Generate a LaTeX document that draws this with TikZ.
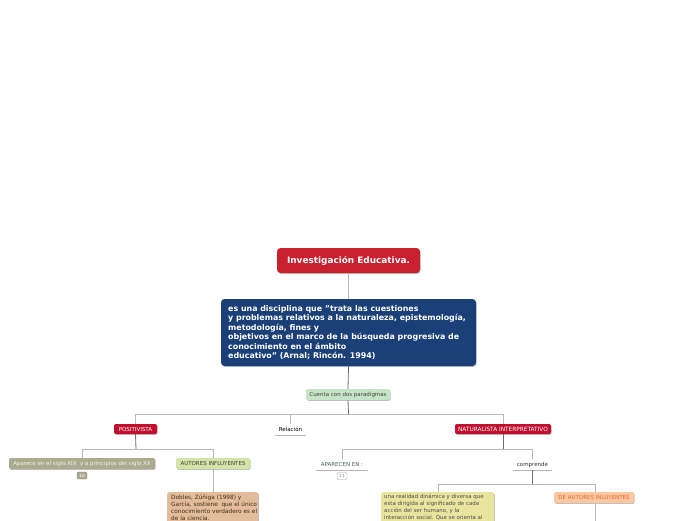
\documentclass[tikz,border=0pt]{standalone}
\usepackage{fontspec}
\setmainfont{DejaVu Sans}
\usetikzlibrary{shadows}
\definecolor{titlered}{HTML}{C8202F}
\definecolor{navy}{HTML}{1B4077}
\definecolor{paleg}{HTML}{C6E4C6}
\definecolor{parred}{HTML}{C0102E}
\definecolor{olivegray}{HTML}{ABAB8F}
\definecolor{olivedark}{HTML}{7E7E64}
\definecolor{limeg}{HTML}{D6E3A6}
\definecolor{tan}{HTML}{E3BD9B}
\definecolor{yellowbox}{HTML}{E9E59F}
\definecolor{peach}{HTML}{FCC8A0}
\definecolor{orangetx}{HTML}{F26430}
\definecolor{lightln}{HTML}{B8B8B8}
\definecolor{darkln}{HTML}{6E6E6E}
\definecolor{apentx}{HTML}{4A624A}
\tikzset{
  shad/.style={drop shadow={shadow xshift=0.7pt, shadow yshift=-0.9pt, opacity=0.25, fill=black}},
  boxx/.style={rounded corners=2pt, inner sep=0pt, shad},
  titlebox/.style={boxx, fill=titlered, text=white, font=\fontsize{8.9}{10}\selectfont\bfseries, rounded corners=3.5pt},
  bluebox/.style={boxx, fill=navy, rounded corners=3.5pt},
  smallfont/.style={font=\fontsize{5.5}{6.5}\selectfont},
  greenbox/.style={boxx, fill=paleg, text=black!75, smallfont},
  redbox/.style={boxx, fill=parred, text=white, smallfont},
  plain/.style={inner sep=0pt, smallfont},
  underl/.style={draw=lightln, line width=0.7pt},
  lightconn/.style={draw=lightln, line width=0.8pt},
  darkconn/.style={draw=darkln, line width=0.8pt},
  badge/.style={rounded corners=2pt, inner sep=0pt, minimum width=10pt, minimum height=7pt, font=\fontsize{4.2}{5}\selectfont},
  bodytext/.style={inner sep=0pt, align=left}
}
\begin{document}
\begin{tikzpicture}[x=1pt,y=-1pt]
\useasboundingbox (0,0) rectangle (696,520);
\clip (0,0) rectangle (696,520);
\fill[white] (0,0) rectangle (696,520);

% title and definition
\node[titlebox, minimum width=143pt, minimum height=25pt] (title) at (348.5,260.5) {Investigación Educativa.};
\node[bluebox, minimum width=255pt, minimum height=67pt] (def) at (348.5,332.5) {};
\node[inner sep=0pt, anchor=north west, align=left, text=white, font=\fontsize{7.9}{9.5}\selectfont\bfseries] (deftext) at (228,305) {es una disciplina que {\char34}trata las cuestiones\\y problemas relativos a la naturaleza, epistemología,\\metodología, fines y\\objetivos en el marco de la búsqueda progresiva de\\conocimiento en el ámbito\\educativo{\char34} (Arnal; Rincón. 1994)};
\node[greenbox, minimum width=84pt, minimum height=11pt] (par) at (348,394.5) {Cuenta con dos paradigmas};

\draw[lightconn] (title.south) -- (def.north);
\draw[darkconn] (def.south) -- (par.north);

% level 2
\node[redbox, minimum width=43pt, minimum height=10pt] (pos) at (135.5,429) {POSITIVISTA};
\node[plain, minimum width=31pt, minimum height=11pt] (rel) at (290.5,429.5) {Relación};
\draw[underl] (rel.south west) -- (rel.south east);
\node[redbox, minimum width=96pt, minimum height=10pt, font=\fontsize{5.8}{6.5}\selectfont] (nat) at (503,429) {NATURALISTA INTERPRETATIVO};

\coordinate (j1) at (348.5,414);
\draw[darkconn] (par.south) -- (j1);
\draw[lightconn] (pos.north) -- (pos.north |- j1) -- (nat.north |- j1) -- (nat.north);
\draw[lightconn] (rel.north) -- (rel.north |- j1);

% positivista children
\node[boxx, fill=olivegray, text=white!85!olivegray, smallfont, minimum width=146pt, minimum height=11pt] (apa) at (82,463.5) {Aparece en el siglo XIX\ \ y a principios del siglo XX};
\node[badge, fill=olivegray, draw=olivedark, text=white] (b12) at (82,475.5) {12};
\node[boxx, fill=limeg, text=black!75, smallfont, minimum width=74pt, minimum height=11pt] (aut) at (213,463.5) {AUTORES INFLUYENTES};
\coordinate (j2) at (136,449);
\draw[darkconn] (pos.south) -- (j2);
\draw[lightconn] (apa.north) -- (apa.north |- j2) -- (aut.north |- j2) -- (aut.north);

\node[boxx, fill=tan, minimum width=91pt, minimum height=48pt, anchor=north west] (dob) at (167,492) {};
\node[bodytext, text=black!65!brown, anchor=north west, font=\fontsize{5.8}{7}\selectfont] (dobtext) at (171,494.3) {Dobles, Zúñiga (1998) y\\García, sostiene\ \ que el único\\conocimiento verdadero es el\\de la ciencia.};
\draw[lightconn] (aut.south) -- (dob.north -| aut.south);

% naturalista children
\node[plain, text=apentx, minimum width=52pt, minimum height=11pt] (apen) at (342,464.5) {APARECEN EN :};
\draw[underl] (apen.south west) -- (apen.south east);
\node[badge, fill=white, draw=gray!70, text=gray] (b11) at (342,476) {11};
\node[plain, text=black!80, minimum width=39pt, minimum height=11pt] (comp) at (532.5,464.5) {comprende};
\draw[underl] (comp.south west) -- (comp.south east);
\coordinate (j3) at (503,449);
\draw[darkconn] (nat.south) -- (j3);
\draw[lightconn] (apen.north) -- (apen.north |- j3) -- (comp.north |- j3) -- (comp.north);

\node[boxx, fill=yellowbox, minimum width=113pt, minimum height=48pt, anchor=north west] (real) at (381,492) {};
\node[bodytext, text=black!70, anchor=north west, font=\fontsize{5.45}{7}\selectfont] (realtext) at (384,494.4) {una realidad dinámica y diversa que\\esta dirigida al significado de cada\\acción del ser humano, y la\\interacción social. Que se orienta al};
\node[boxx, fill=peach, text=orangetx, smallfont, minimum width=80pt, minimum height=11pt] (dea) at (594,497.5) {DE AUTORES INLUYENTES};
\coordinate (j4) at (532.5,484);
\draw[darkconn] (comp.south) -- (j4);
\draw[lightconn] (real.north -| 438,0) -- (438,484) -- (595,484) -- (dea.north -| 595,0);
\coordinate (dend) at (595,525);
\draw[lightconn] (dea.south -| dend) -- (dend);
\end{tikzpicture}
\end{document}
